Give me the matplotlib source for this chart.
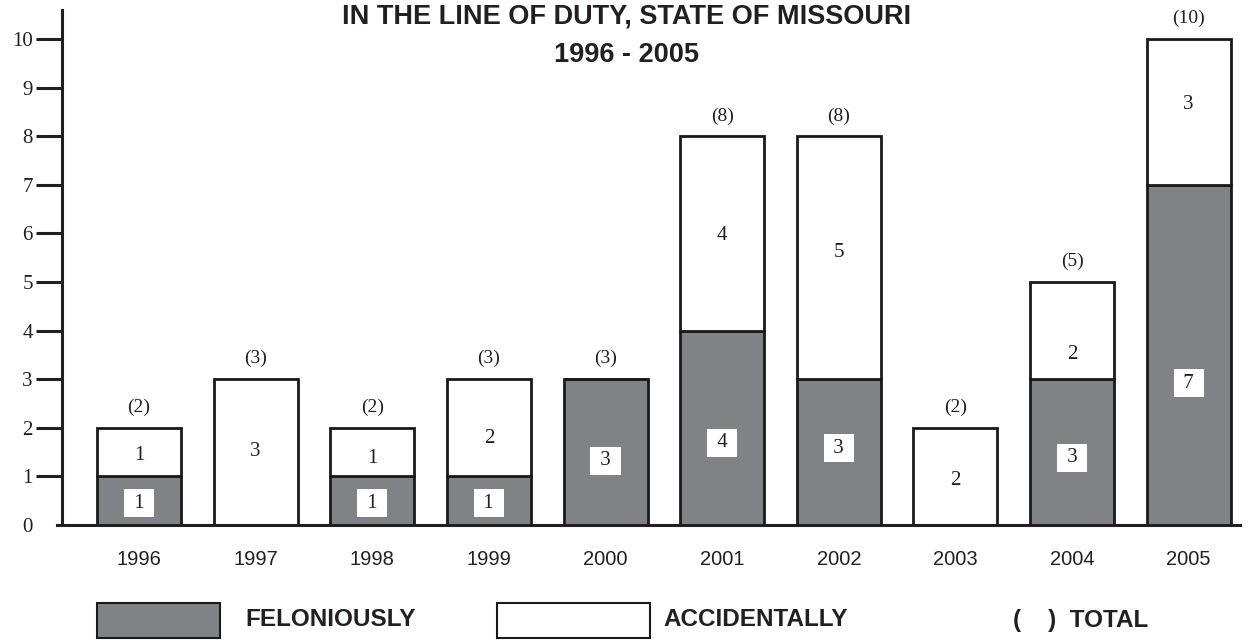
import matplotlib
matplotlib.use('Agg')
import matplotlib.pyplot as plt
from matplotlib.patches import Rectangle
import numpy as np

years = ['1996', '1997', '1998', '1999', '2000', '2001', '2002', '2003', '2004', '2005']
felonious = [1, 0, 1, 1, 3, 4, 3, 0, 3, 7]
accidental = [1, 3, 1, 2, 0, 4, 5, 2, 2, 3]
totals = [f + a for f, a in zip(felonious, accidental)]

# where the number labels sit (data units)
fel_label_y = [0.45, None, 0.45, 0.45, 1.32, 1.69, 1.58, None, 1.38, 2.92]
acc_label_y = [1.44, 1.52, 1.36, 1.79, None, 5.95, 5.60, 0.91, 3.50, 8.66]

GRAY = '#808285'
INK = '#231f20'
SERIF = ['Liberation Serif', 'DejaVu Serif']
SANS = ['Liberation Sans', 'DejaVu Sans']

W, H = 1254, 640
fig = plt.figure(figsize=(W / 100, H / 100), dpi=100)
ax = fig.add_axes([62 / W, 115 / H, (1240 - 62) / W, (525 - 10) / H])

x = np.arange(len(years))
ax.bar(x, felonious, width=0.72, color=GRAY, edgecolor='#1a1a1a', linewidth=2.0, zorder=2)
ax.bar(x, accidental, width=0.72, bottom=felonious, color='white',
       edgecolor='#1a1a1a', linewidth=2.0, zorder=2)

for i in range(len(years)):
    if fel_label_y[i] is not None and felonious[i] > 0:
        ax.text(x[i], fel_label_y[i], ' %d ' % felonious[i], ha='center', va='center',
                fontsize=15, family=SERIF, color=INK, zorder=4,
                bbox=dict(boxstyle='square,pad=0.22', facecolor='white', edgecolor='none'))
    if acc_label_y[i] is not None and accidental[i] > 0:
        ax.text(x[i], acc_label_y[i], '%d' % accidental[i], ha='center', va='center',
                fontsize=15, family=SERIF, color=INK, zorder=4)
    ax.text(x[i], totals[i] + 0.42, '(%d)' % totals[i], ha='center', va='center',
            fontsize=14, family=SERIF, color=INK)

ax.set_xlim(-0.66, 9.44)
ax.set_ylim(0, 10.6)
ax.set_yticks(range(0, 11))
ax.set_yticklabels([str(v) for v in range(0, 11)], family=SERIF, fontsize=15, color=INK)
ax.set_xticks(x)
ax.set_xticklabels(years, family=SANS, fontsize=14.5, color=INK)
ax.tick_params(axis='x', length=0, pad=18)
ax.tick_params(axis='y', length=19, width=2.2, pad=2, color=INK)
ax.yaxis.get_major_ticks()[0].tick1line.set_visible(False)

for s in ['top', 'right']:
    ax.spines[s].set_visible(False)
for s in ['left', 'bottom']:
    ax.spines[s].set_linewidth(2.2)
    ax.spines[s].set_color(INK)
ax.spines['left'].set_bounds(0.05, 10.6)
ax.spines['bottom'].set_bounds(-0.7, 9.44)
ax.spines['bottom'].set_clip_on(False)

fig.text(627 / W, 1 - 17 / H, 'IN THE LINE OF DUTY, STATE OF MISSOURI', ha='center', va='center',
         fontsize=19.5, fontweight='bold', family=SANS, color=INK)
fig.text(627 / W, 1 - 55 / H, '1996 - 2005', ha='center', va='center',
         fontsize=19.5, fontweight='bold', family=SANS, color=INK)

# legend along the bottom
fig.patches.append(Rectangle((97 / W, 1 - 638 / H), 123 / W, 35 / H, transform=fig.transFigure,
                             facecolor=GRAY, edgecolor='#1a1a1a', linewidth=1.5))
fig.patches.append(Rectangle((497 / W, 1 - 638 / H), 153 / W, 35 / H, transform=fig.transFigure,
                             facecolor='white', edgecolor='#1a1a1a', linewidth=1.5))
fig.text(245 / W, 1 - 620 / H, 'FELONIOUSLY', ha='left', va='center', fontsize=17.5,
         fontweight='bold', family=SANS, color=INK)
fig.text(663 / W, 1 - 620 / H, 'ACCIDENTALLY', ha='left', va='center', fontsize=17.5,
         fontweight='bold', family=SANS, color=INK)
fig.text(1013 / W, 1 - 620 / H, '(    )  TOTAL', ha='left', va='center', fontsize=17.5,
         fontweight='bold', family=SANS, color=INK)

fig.savefig('out.png', dpi=100, facecolor='white')
